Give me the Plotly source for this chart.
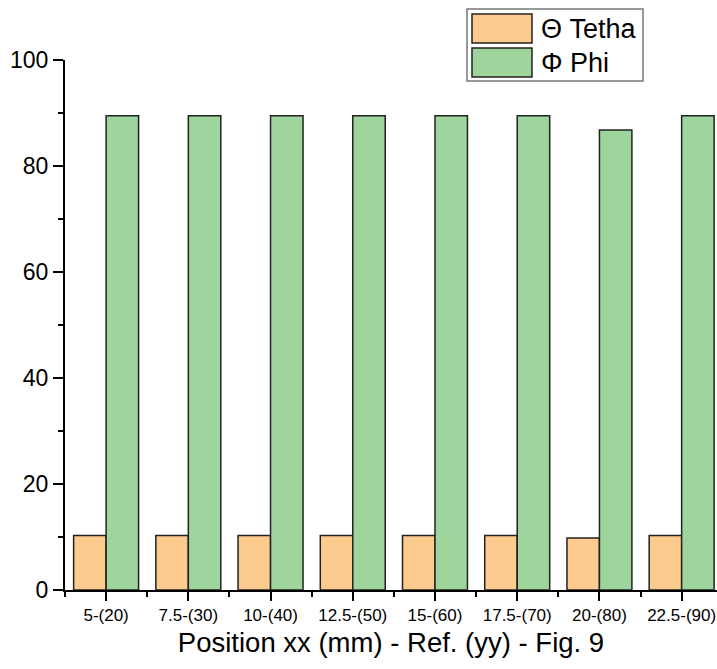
import plotly.graph_objects as go

categories = ["5-(20)", "7.5-(30)", "10-(40)", "12.5-(50)", "15-(60)", "17.5-(70)", "20-(80)", "22.5-(90)"]
tetha = [10.3, 10.3, 10.3, 10.3, 10.3, 10.3, 9.8, 10.3]
phi = [89.5, 89.5, 89.5, 89.5, 89.5, 89.5, 86.8, 89.5]
y_ticks = [0, 20, 40, 60, 80, 100]
series_names = ["\u0398 Tetha", "\u03A6 Phi"]

orange = "#FECB8F"
green = "#9DD59C"
edge = "#222222"
font_family = "Arial, Liberation Sans, sans-serif"

xpos = list(range(len(categories)))

fig = go.Figure()
fig.add_trace(go.Bar(x=xpos, y=tetha, name=series_names[0], marker=dict(color=orange, line=dict(color=edge, width=1.5)), showlegend=False))
fig.add_trace(go.Bar(x=xpos, y=phi, name=series_names[1], marker=dict(color=green, line=dict(color=edge, width=1.5)), showlegend=False))

W, H = 717, 669
ml, mr, mt, mb = 65, 0, 60, 79

fig.update_layout(
    width=W, height=H,
    margin=dict(l=ml, r=mr, t=mt, b=mb, autoexpand=False),
    paper_bgcolor="white", plot_bgcolor="white",
    barmode="group", bargap=0.21, bargroupgap=0,
    font=dict(family=font_family, color="black"),
    xaxis=dict(
        range=[-0.5, 7.43], tickvals=xpos, ticktext=categories,
        showline=True, linecolor="black", linewidth=2,
        ticks="outside", ticklen=9, tickwidth=2, tickcolor="black",
        minor=dict(tickvals=[i - 0.5 for i in range(len(categories) + 1)], ticks="outside", ticklen=5, tickwidth=2, tickcolor="black"),
        tickfont=dict(size=17), showgrid=False, zeroline=False, ticklabeloverflow="allow",
        title=dict(text="Position xx (mm) - Ref. (yy) - Fig. 9", font=dict(size=27.5), standoff=8),
        automargin=False,
    ),
    yaxis=dict(
        range=[0, 100], tickvals=y_ticks,
        showline=True, linecolor="black", linewidth=2,
        ticks="outside", ticklen=10, tickwidth=2, tickcolor="black",
        minor=dict(dtick=10, ticks="outside", ticklen=5, tickwidth=2, tickcolor="black"),
        tickfont=dict(size=23), showgrid=False, zeroline=False,
        automargin=False,
    ),
)

# custom legend (box with wide swatches)
pw = W - ml - mr
ph = H - mt - mb
def px(x):
    return (x - ml) / pw
def py(y):
    return (H - mb - y) / ph

fig.add_shape(type="rect", xref="paper", yref="paper", x0=px(467), x1=px(643), y0=py(81), y1=py(9),
              line=dict(color="#777777", width=1.5), fillcolor="white", layer="above")
for i, (nm, col) in enumerate(zip(series_names, [orange, green])):
    top = 14 + i * 34
    fig.add_shape(type="rect", xref="paper", yref="paper", x0=px(472), x1=px(532), y0=py(top + 29), y1=py(top),
                  line=dict(color=edge, width=1.5), fillcolor=col, layer="above")
    fig.add_annotation(xref="paper", yref="paper", x=px(539), y=py(top + 14.5), text=nm, showarrow=False,
                       xanchor="left", yanchor="middle", font=dict(size=27, color="black", family=font_family))

fig.write_html("out.html", config={"displayModeBar": False},
               post_script="document.body.style.margin='0px';document.body.style.padding='0px';")
